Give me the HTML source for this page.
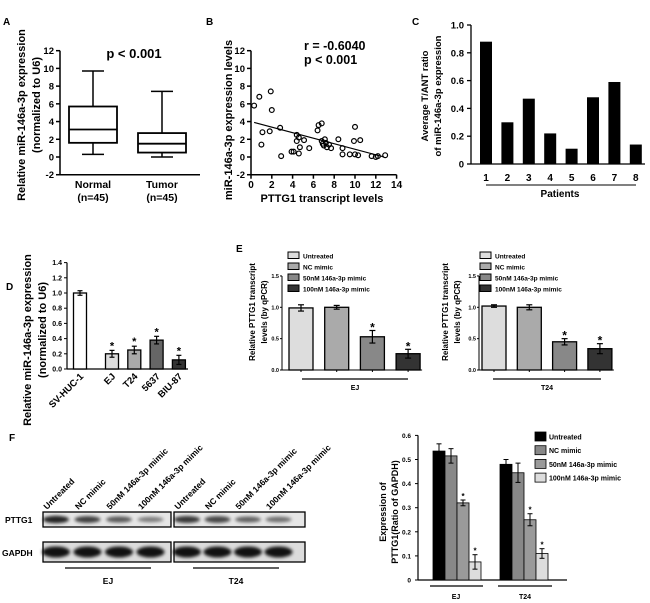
<!DOCTYPE html>
<html><head><meta charset="utf-8"><style>
body{margin:0;background:#fff}
svg{display:block;font-family:"Liberation Sans",Arial,sans-serif;font-weight:bold}
</style></head><body>
<svg id="fig" width="650" height="603" viewBox="0 0 650 603" xmlns="http://www.w3.org/2000/svg">
<defs><filter id="blur" x="-20%" y="-50%" width="140%" height="200%"><feGaussianBlur stdDeviation="1.6"/></filter></defs>
<g font-size="10">
<text x="3" y="25">A</text>
<text x="206" y="25">B</text>
<text x="412" y="25">C</text>
<text x="6" y="290">D</text>
<text x="236" y="252">E</text>
<text x="9" y="441">F</text>
</g>
</svg>
<script>
// ---- Panel A data
const aGroups = ['Normal','Tumor'];
const aN = ['(n=45)','(n=45)'];
const aMin = [0.3, 0.0];
const aQ1 = [1.6, 0.5];
const aMed = [3.1, 1.5];
const aQ3 = [5.7, 2.7];
const aMax = [9.7, 7.4];
const abTicks = [-2,0,2,4,6,8,10,12];
// ---- Panel B data
const bX = [0.3,0.8,1.1,1.0,1.9,2.0,1.8,2.8,2.9,3.9,4.1,4.4,4.4,4.6,4.6,4.7,5.1,5.6,6.4,6.5,6.8,6.8,6.9,7.0,7.1,7.2,7.3,7.5,7.7,8.4,8.8,8.8,9.5,9.9,10.0,10.0,10.3,10.5,11.6,12.0,12.2,12.9];
const bY = [5.8,6.8,2.8,1.4,7.4,5.3,2.9,3.3,0.1,0.6,0.6,2.5,1.8,2.2,0.4,1.1,1.9,1.0,3.0,3.6,3.8,1.8,1.5,1.3,2.0,1.6,1.1,1.4,1.0,2.0,1.0,0.3,0.3,1.8,3.4,0.3,0.2,1.9,0.1,0.0,0.1,0.2];
const bFitX = [0.3, 12.8];
const bFitY = [3.9, 0.0];
const bXTicks = [0,2,4,6,8,10,12,14];
// ---- Panel C data
const cPatients = ['1','2','3','4','5','6','7','8'];
const cValues = [0.88,0.30,0.47,0.22,0.11,0.48,0.59,0.14];
const cTicks = [0,0.2,0.4,0.6,0.8,1.0];
// ---- Panel D data
const dCells = ['SV-HUC-1','EJ','T24','5637','BIU-87'];
const dValues = [1.0,0.20,0.25,0.38,0.12];
const dErr = [0.03,0.045,0.05,0.05,0.06];
const dStar = [false,true,true,true,true];
const dTicks = [0.0,0.2,0.4,0.6,0.8,1.0,1.2,1.4];
// ---- Panel E data
const eSeries = ['Untreated','NC mimic','50nM 146a-3p mimic','100nM 146a-3p mimic'];
const eEJ = [0.99,1.0,0.53,0.26];
const eEJErr = [0.05,0.03,0.10,0.07];
const eT24 = [1.02,1.0,0.45,0.34];
const eT24Err = [0.02,0.04,0.05,0.08];
const eStar = [false,false,true,true];
const eTicks = [0.0,0.5,1.0,1.5];
// ---- Panel F data
const fLanes = ['Untreated','NC mimic','50nM 146a-3p mimic','100nM 146a-3p mimic'];
const fPTTG1 = [1.0,0.8,0.6,0.35];
const fPTTG1T24 = [0.85,0.75,0.55,0.45];
const fEJ = [0.535,0.515,0.32,0.075];
const fEJErr = [0.03,0.03,0.012,0.03];
const fT24 = [0.48,0.445,0.25,0.11];
const fT24Err = [0.02,0.04,0.025,0.02];
const fTicks = [0,0.1,0.2,0.3,0.4,0.5,0.6];

const NS='http://www.w3.org/2000/svg';
const svg=document.getElementById('fig');
function mk(tag,attrs,txt){const e=document.createElementNS(NS,tag);for(const k in attrs)e.setAttribute(k,attrs[k]);if(txt!==undefined)e.textContent=txt;svg.appendChild(e);return e;}
function line(x1,y1,x2,y2,w){return mk('line',{x1,y1,x2,y2,stroke:'#000','stroke-width':w||1.5});}
function fmt1(v){return v.toFixed(1);}

// ================= Panel A =================
const ya=v=>157-v*8.86;
const xa=i=>93+i*69;
let e;
e=line(60,ya(12),60,ya(-2));


e=line(60,ya(-2),200,ya(-2));


abTicks.forEach(t=>{
  e=line(56,ya(t),60,ya(t));
  
  
  e=mk('text',{x:54,y:ya(t)+3.5,'font-size':9.5,'text-anchor':'end'},String(t));
  
  
});
aGroups.forEach((g,i)=>{
  const cx=xa(i),hw=24,cw=11;
  e=line(cx,ya(aMax[i]),cx,ya(aQ3[i]));
  
  
  e=line(cx,ya(aQ1[i]),cx,ya(aMin[i]));
  
  
  e=line(cx-cw,ya(aMax[i]),cx+cw,ya(aMax[i]));
  
  
  e=line(cx-cw,ya(aMin[i]),cx+cw,ya(aMin[i]));
  
  
  e=mk('rect',{x:cx-hw,y:ya(aQ3[i]),width:hw*2,height:ya(aQ1[i])-ya(aQ3[i]),fill:'#fff',stroke:'#000','stroke-width':1.8});
  
  
  e=line(cx-hw,ya(aMed[i]),cx+hw,ya(aMed[i]),1.8);
  
  
  e=mk('text',{x:cx,y:188,'font-size':10.5,'text-anchor':'middle'},g);
  
  
  e=mk('text',{x:cx,y:201,'font-size':10.5,'text-anchor':'middle'},aN[i]);
  
  
});
e=mk('text',{x:134,y:58,'font-size':13,'text-anchor':'middle'},'p < 0.001');


e=mk('text',{x:0,y:0,'font-size':11,'text-anchor':'middle',transform:'translate(25,115) rotate(-90)'},'Relative miR-146a-3p expression');


e=mk('text',{x:0,y:0,'font-size':11,'text-anchor':'middle',transform:'translate(40,105) rotate(-90)'},'(normalized to U6)');



// ================= Panel B =================
const xb=v=>251+v*10.4;
const yb=ya;
e=line(251,yb(12),251,yb(-2));


e=line(251,yb(-2),xb(14),yb(-2));


abTicks.forEach(t=>{
  e=line(247,yb(t),251,yb(t));
  
  
  e=mk('text',{x:245,y:yb(t)+3.5,'font-size':9.5,'text-anchor':'end'},String(t));
  
  
});
bXTicks.forEach(t=>{
  e=line(xb(t),yb(-2),xb(t),yb(-2)+4);
  
  
  e=mk('text',{x:xb(t),y:188,'font-size':10,'text-anchor':'middle'},String(t));
  
  
});
bX.forEach((x,i)=>{
  e=mk('circle',{cx:xb(x),cy:yb(bY[i]),r:2.4,fill:'none',stroke:'#000','stroke-width':1.2});
  
  
});
e=line(xb(bFitX[0]),yb(bFitY[0]),xb(bFitX[1]),yb(bFitY[1]),1.2);


e=mk('text',{x:304,y:50,'font-size':12.5},'r = -0.6040');


e=mk('text',{x:304,y:64,'font-size':12.5},'p < 0.001');


e=mk('text',{x:322,y:202,'font-size':11,'text-anchor':'middle'},'PTTG1 transcript levels');


e=mk('text',{x:0,y:0,'font-size':11,'text-anchor':'middle',transform:'translate(232,120) rotate(-90)'},'miR-146a-3p expression levels');



// ================= Panel C =================
const yc=v=>164-v*139;
const xc=i=>486+i*21.4;
e=line(471,yc(1),471,yc(0),1.3);


e=line(471,yc(0),645,yc(0),1.3);


cTicks.forEach(t=>{
  e=line(467,yc(t),471,yc(t),1.3);
  
  
  e=mk('text',{x:464,y:yc(t)+3.5,'font-size':9.5,'text-anchor':'end'},t===0?'0':fmt1(t));
  
  
});
cPatients.forEach((p,i)=>{
  e=mk('rect',{x:xc(i)-6,y:yc(cValues[i]),width:12,height:yc(0)-yc(cValues[i]),fill:'#000'});
  
  
  e=mk('text',{x:xc(i),y:181,'font-size':10,'text-anchor':'middle'},p);
  
  
});
e=line(486,185,636,185,1);


e=mk('text',{x:560,y:197,'font-size':10,'text-anchor':'middle'},'Patients');


e=mk('text',{x:0,y:0,'font-size':9.5,'text-anchor':'middle',transform:'translate(428,96) rotate(-90)'},'Average T/ANT ratio');


e=mk('text',{x:0,y:0,'font-size':9.5,'text-anchor':'middle',transform:'translate(441,96) rotate(-90)'},'of miR-146a-3p expression');



// ================= Panel D =================
const yd=v=>369-v*76;
const xd=i=>i===0?80:112+(i-1)*22.3;
const dFill=['#fff','#ddd','#aaa','#666','#333'];
e=line(67,yd(1.4),67,yd(0),1.2);


e=line(67,yd(0),188,yd(0),1.2);


dTicks.forEach(t=>{
  e=line(64,yd(t),67,yd(t),1);
  
  
  e=mk('text',{x:62,y:yd(t)+2.5,'font-size':7,'text-anchor':'end'},fmt1(t));
  
  
});
dCells.forEach((c,i)=>{
  const cx=xd(i);
  e=mk('rect',{x:cx-6.5,y:yd(dValues[i]),width:13,height:yd(0)-yd(dValues[i]),fill:dFill[i],stroke:'#000','stroke-width':1.3});
  
  
  const t=yd(dValues[i]+dErr[i]),b=yd(dValues[i]-dErr[i]);
  e=line(cx,t,cx,b,1.2);
  
  
  e=line(cx-2.5,t,cx+2.5,t,1.2);
  
  
  e=line(cx-2.5,b,cx+2.5,b,1.2);
  
  
  if(dStar[i]){
    e=mk('text',{x:cx,y:t-1,'font-size':11,'text-anchor':'middle'},'*');
    
    
  }
  e=mk('text',{x:0,y:0,'font-size':9.5,'text-anchor':'end',transform:`translate(${cx+4},377) rotate(-45)`},c);
  
  
});
e=mk('text',{x:0,y:0,'font-size':11,'text-anchor':'middle',transform:'translate(31,340) rotate(-90)'},'Relative miR-146a-3p expression');


e=mk('text',{x:0,y:0,'font-size':11,'text-anchor':'middle',transform:'translate(46,330) rotate(-90)'},'(normalized to U6)');



// ================= Panel E =================
const ye=v=>370-v*62.7;
const eFill=['#ddd','#aaa','#888','#333'];
function ePanel(ax,x0,step,vals,errs,group,lineX1,lineX2,legX,tX,pfx){
  e=line(ax,ye(1.5),ax,ye(0),1);
  
  
  e=line(ax,ye(0),x0+step*3+26,ye(0),1);
  
  
  eTicks.forEach(t=>{
    e=line(ax-2,ye(t),ax,ye(t),1);
    
    
    e=mk('text',{x:ax-3,y:ye(t)+2,'font-size':5.5,'text-anchor':'end'},fmt1(t));
    
    
  });
  vals.forEach((v,i)=>{
    const bx=x0+i*step,cx=bx+12;
    e=mk('rect',{x:bx,y:ye(v),width:24,height:ye(0)-ye(v),fill:eFill[i],stroke:'#000','stroke-width':1.3});
    
    
    const t=ye(v+errs[i]),b=ye(v-errs[i]);
    e=line(cx,t,cx,b,1.2);
    
    
    e=line(cx-3,t,cx+3,t,1.2);
    
    
    e=line(cx-3,b,cx+3,b,1.2);
    
    
    e=line(cx,ye(0),cx,ye(0)+2,1);
    
    
    if(eStar[i]){
      e=mk('text',{x:cx,y:t+1,'font-size':12,'text-anchor':'middle'},'*');
      
      
    }
  });
  e=line(lineX1,379,lineX2,379,1.2);
  
  
  e=mk('text',{x:(lineX1+lineX2)/2,y:390,'font-size':7,'text-anchor':'middle'},group);
  
  
  eSeries.forEach((s,i)=>{
    const ry=252+i*11;
    e=mk('rect',{x:legX,y:ry,width:11,height:6.5,fill:eFill[i],stroke:'#000','stroke-width':1});
    
    
    e=mk('text',{x:legX+15,y:ry+6.5,'font-size':6.5},s);
    
    
  });
  e=mk('text',{x:0,y:0,'font-size':8,'text-anchor':'middle',transform:`translate(${tX},312) rotate(-90)`},'Relative PTTG1 transcript');
  
  
  e=mk('text',{x:0,y:0,'font-size':8,'text-anchor':'middle',transform:`translate(${tX+12},312) rotate(-90)`},'levels (by qPCR)');
  
  
}
ePanel(282,289,35.7,eEJ,eEJErr,'EJ',302,408,288,255,'e-ej');
ePanel(479,482,35.3,eT24,eT24Err,'T24',493,601,480,448,'e-t24');

// ================= Panel F blot =================
const blotLanesEJ=i=>56+i*31.5;
const blotLanesT24=i=>187+i*30.5;
[[43,171,'ej'],[174,305,'t24']].forEach(b=>{
  e=mk('rect',{x:b[0],y:512,width:b[1]-b[0],height:15,fill:'#e6e6e6',stroke:'#000','stroke-width':1.3});
  
  
  e=mk('rect',{x:b[0],y:542,width:b[1]-b[0],height:20,fill:'#dcdcdc',stroke:'#000','stroke-width':1.3});
  
  
});
fLanes.forEach((l,i)=>{
  [[blotLanesEJ(i),fPTTG1[i]],[blotLanesT24(i),fPTTG1T24[i]]].forEach(p=>{
    e=mk('ellipse',{cx:p[0],cy:519.5,rx:13,ry:2.2+p[1]*1.5,fill:'#000','fill-opacity':0.25+p[1]*0.6,filter:'url(#blur)'});
    
    
    e=mk('ellipse',{cx:p[0],cy:552,rx:14,ry:5.5,fill:'#000','fill-opacity':0.92,filter:'url(#blur)'});
    
    
  });
  e=mk('text',{x:0,y:0,'font-size':8.5,transform:`translate(${blotLanesEJ(i)-9},510) rotate(-45)`},l);
  
  
  e=mk('text',{x:0,y:0,'font-size':8.5,transform:`translate(${blotLanesT24(i)-9},510) rotate(-45)`},l);
  
  
});
e=mk('text',{x:5,y:523,'font-size':8.5},'PTTG1');


e=mk('text',{x:2,y:556,'font-size':8.5},'GAPDH');


e=line(65,568,151,568,1.3);


e=line(193,568,279,568,1.3);


e=mk('text',{x:108,y:584,'font-size':8.5,'text-anchor':'middle'},'EJ');


e=mk('text',{x:236,y:584,'font-size':8.5,'text-anchor':'middle'},'T24');



// ================= Panel F bar chart =================
const yf=v=>580-v*241;
const fFill=['#000','#888','#9a9a9a','#ddd'];
e=line(418,yf(0.6),418,yf(0),1.2);


e=line(418,yf(0),567,yf(0),1.2);


fTicks.forEach(t=>{
  e=line(415,yf(t),418,yf(t),1);
  
  
  e=mk('text',{x:411,y:yf(t)+2.5,'font-size':6.5,'text-anchor':'end'},t===0?'0':fmt1(t));
  
  
});
[[433,fEJ,fEJErr,'ej'],[500,fT24,fT24Err,'t24']].forEach(g=>{
  g[1].forEach((v,i)=>{
    const bx=g[0]+i*12,cx=bx+6;
    e=mk('rect',{x:bx,y:yf(v),width:12,height:yf(0)-yf(v),fill:fFill[i],stroke:'#000','stroke-width':0.8});
    
    
    const t=yf(v+g[2][i]),b=yf(v-g[2][i]);
    e=line(cx,t,cx,b,1);
    
    
    e=line(cx-2.5,t,cx+2.5,t,1);
    
    
    e=line(cx-2.5,b,cx+2.5,b,1);
    
    
    if(i>=2){
      e=mk('text',{x:cx,y:t-1,'font-size':8,'text-anchor':'middle'},'*');
      
      
    }
  });
});
e=line(430,586,483,586,1.3);


e=line(498,586,552,586,1.3);


e=mk('text',{x:456,y:599,'font-size':7,'text-anchor':'middle'},'EJ');


e=mk('text',{x:525,y:599,'font-size':7,'text-anchor':'middle'},'T24');


fLanes.forEach((s,i)=>{
  const ry=432+i*13.7;
  e=mk('rect',{x:535,y:ry,width:11,height:9,fill:fFill[i],stroke:'#000','stroke-width':0.8});
  
  
  e=mk('text',{x:549,y:ry+7.5,'font-size':7},s);
  
  
});
e=mk('text',{x:0,y:0,'font-size':9,'text-anchor':'middle',transform:'translate(386,512) rotate(-90)'},'Expression of');


e=mk('text',{x:0,y:0,'font-size':9,'text-anchor':'middle',transform:'translate(398,512) rotate(-90)'},'PTTG1(Ratio of GAPDH)');


</script>
</body></html>
